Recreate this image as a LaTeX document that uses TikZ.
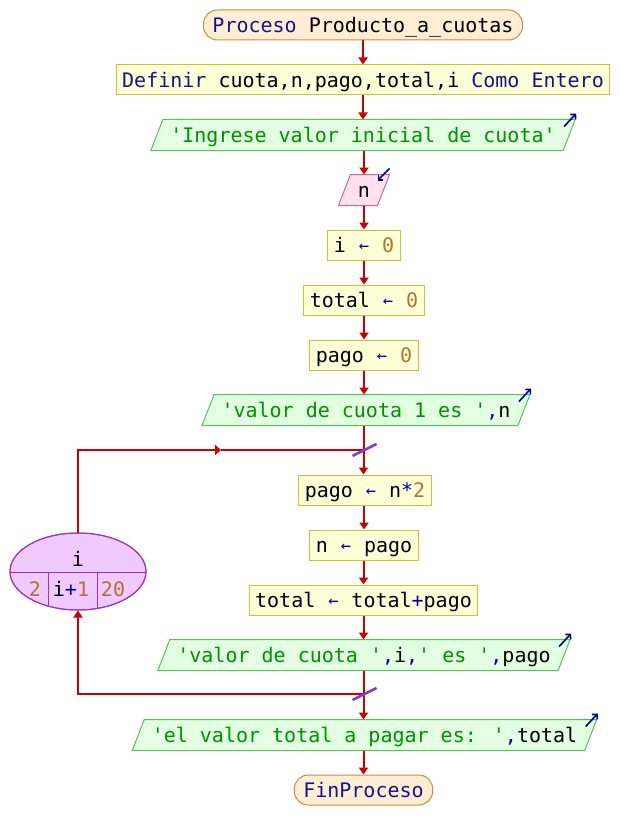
\documentclass[tikz,border=0pt]{standalone}
\usepackage{fontspec}
\newfontfamily\codefont{DejaVu Sans Mono}
\usetikzlibrary{arrows.meta,calc,backgrounds,shapes.geometric}

\definecolor{arrowred}{RGB}{204,0,0}
\definecolor{slashpurple}{RGB}{130,60,200}
\definecolor{termfill}{RGB}{255,238,212}
\definecolor{termline}{RGB}{200,140,60}
\definecolor{procfill}{RGB}{255,255,215}
\definecolor{procline}{RGB}{200,195,60}
\definecolor{outfill}{RGB}{226,255,226}
\definecolor{outline}{RGB}{90,190,90}
\definecolor{infill}{RGB}{255,225,240}
\definecolor{inline}{RGB}{210,100,150}
\definecolor{loopfill}{RGB}{240,202,255}
\definecolor{loopline}{RGB}{150,50,200}
\definecolor{kwblue}{RGB}{20,20,140}
\definecolor{strgreen}{RGB}{0,145,0}
\definecolor{numbrown}{RGB}{175,115,50}
\definecolor{opblue}{RGB}{0,0,170}
\definecolor{iconblue}{RGB}{0,0,140}

\newcommand\kwd[1]{\textcolor{kwblue}{#1}}
\newcommand\strg[1]{\textcolor{strgreen}{#1}}
\newcommand\numb[1]{\textcolor{numbrown}{#1}}
\newcommand\oper[1]{\textcolor{opblue}{#1}}
\newcommand\asg{\textcolor{opblue}{\makebox[0.602em]{\raisebox{1.2pt}{\scalebox{0.85}{←}}}}}

\tikzset{
  code/.style={font=\codefont\fontsize{20}{24}\selectfont, text height=14.6pt, text depth=0pt},
  boxbase/.style={code, minimum height=30pt, inner ysep=0pt, line width=1pt},
  termbox/.style={boxbase, draw=termline, fill=termfill, rounded corners=14pt, inner xsep=9pt},
  procbox/.style={boxbase, draw=procline, fill=procfill, inner xsep=6pt},
  iotext/.style={boxbase, inner xsep=13pt},
  flowline/.style={draw=arrowred, line width=2pt},
  flow/.style={flowline, -{Triangle[length=7pt,width=9pt]}},
  midflow/.style={flowline, -{Triangle[length=6pt,width=10pt]}},
  slash/.style={draw=slashpurple, line width=2.5pt},
  icon/.style={draw=iconblue, line width=1.6pt, -{Straight Barb[length=3.5pt,width=7pt]}},
}

% parallelogram behind an I/O text node: #1 node, #2 fill, #3 border
\newcommand\parashape[3]{%
  \begin{pgfonlayer}{background}
    \path[fill=#2, draw=#3, line width=1pt]
      ($(#1.north west)+(6,0)$) -- ($(#1.north east)+(6,0)$) --
      ($(#1.south east)+(-6,0)$) -- ($(#1.south west)+(-6,0)$) -- cycle;
  \end{pgfonlayer}}

\begin{document}
\begin{tikzpicture}[x=1pt, y=-1pt]
  \begin{pgfonlayer}{background}
    \fill[white] (0,0) rectangle (620,840);
  \end{pgfonlayer}
  \useasboundingbox (0,0) rectangle (620,840);

  % main column
  \node[termbox] (start) at (363,25) {\kwd{Proceso} Producto\_a\_cuotas};
  \node[procbox] (def) at (363,80) {\kwd{Definir} cuota,n,pago,total,i \kwd{Como Entero}};
  \node[iotext] (o1) at (363,135) {\strg{'Ingrese valor inicial de cuota'}};
  \parashape{o1}{outfill}{outline}
  \node[iotext] (in) at (364,190) {n};
  \parashape{in}{infill}{inline}
  \node[procbox] (a1) at (364,245) {i \asg{} \numb{0}};
  \node[procbox] (a2) at (364,300) {total \asg{} \numb{0}};
  \node[procbox] (a3) at (364,355) {pago \asg{} \numb{0}};
  \node[iotext] (o2) at (366,410) {\strg{'valor de cuota 1 es '}\oper{,}n};
  \parashape{o2}{outfill}{outline}

  % loop body
  \node[procbox] (b1) at (365,490) {pago \asg{} n\oper{*}\numb{2}};
  \node[procbox] (b2) at (364,545) {n \asg{} pago};
  \node[procbox] (b3) at (363.5,600) {total \asg{} total\oper{+}pago};
  \node[iotext] (o3) at (364,655) {\strg{'valor de cuota '}\oper{,}i\oper{,}\strg{' es '}\oper{,}pago};
  \parashape{o3}{outfill}{outline}

  \node[iotext] (o4) at (364.5,735) {\strg{'el valor total a pagar es: '}\oper{,}total};
  \parashape{o4}{outfill}{outline}
  \node[termbox] (fin) at (363.5,790) {\kwd{FinProceso}};

  % loop header
  \node[ellipse, draw=loopline, fill=loopfill, line width=1pt,
        minimum width=136pt, minimum height=77pt, inner sep=0pt] (loop) at (78,571.5) {};
  \begin{scope}
    \clip (78,571.5) ellipse [x radius=68, y radius=38.5];
    \draw[loopline, line width=1pt] (10,572) -- (146,572);
    \draw[loopline, line width=1pt] (48,572) -- (48,615);
    \draw[loopline, line width=1pt] (97,572) -- (97,615);
  \end{scope}
  \draw[loopline, line width=1pt] (78,571.5) ellipse [x radius=68, y radius=38.5];
  \node[code, inner sep=0pt] (lvar) at (78,558.7) {i};
  \node[code, inner sep=0pt] (lfrom) at (35,588.7) {\numb{2}};
  \node[code, inner sep=0pt] (lstep) at (71,588.7) {i\oper{+}\numb{1}};
  \node[code, inner sep=0pt] (lto) at (113,588.7) {\numb{20}};

  % junction points of the loop
  \coordinate (jtop) at (363.5,450);
  \coordinate (jbot) at (363.5,694);
  \coordinate (mtop) at (221,450);

  % connectors
  \draw[flow] (start) -- (def);
  \draw[flow] (def) -- (o1);
  \draw[flow] (o1.south -| in) -- (in);
  \draw[flow] (in) -- (a1);
  \draw[flow] (a1) -- (a2);
  \draw[flow] (a2) -- (a3);
  \draw[flow] (a3) -- (a3 |- o2.north);
  \draw[flow] (o2.south -| jtop) -- (b1.north -| jtop);
  \draw[flow] (b1.south -| b2) -- (b2);
  \draw[flow] (b2.south -| b3) -- (b3);
  \draw[flow] (b3.south) -- (b3.south |- o3.north);
  \draw[flow] (o3.south -| jbot) -- (o4.north -| jbot);
  \draw[flow] (o4.south -| fin) -- (fin);
  \draw[midflow] (loop.north) |- (mtop);
  \draw[flowline] (mtop) -- (jtop);
  \draw[flow] (jbot) -| (loop.south);

  % loop junction marks
  \draw[slash] ($(jtop)+(-11,6)$) -- ($(jtop)+(13,-6)$);
  \draw[slash] ($(jbot)+(-11,6)$) -- ($(jbot)+(13,-6)$);

  % read / write markers
  \draw[icon] ($(o1.north east)+(-5,7)$) -- ($(o1.north east)+(7,-6)$);
  \draw[icon] ($(o2.north east)+(-5,7)$) -- ($(o2.north east)+(7,-6)$);
  \draw[icon] ($(o3.north east)+(-5,7)$) -- ($(o3.north east)+(7,-6)$);
  \draw[icon] ($(o4.north east)+(-5,7)$) -- ($(o4.north east)+(7,-6)$);
  \draw[icon] ($(in.north east)+(6,-6)$) -- ($(in.north east)+(-6,6)$);
\end{tikzpicture}
\end{document}
